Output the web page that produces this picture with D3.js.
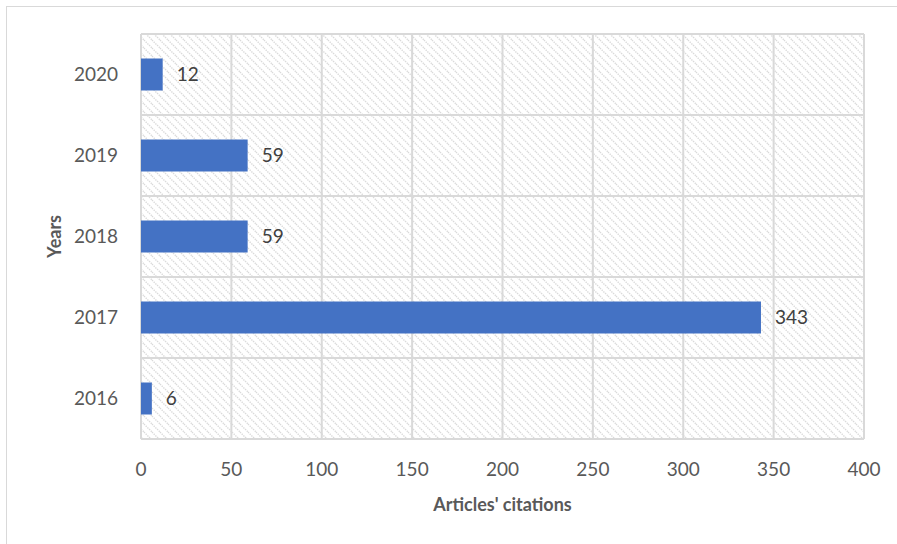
<!DOCTYPE html>
<html>
<head>
<meta charset="utf-8">
<script src="https://cdn.jsdelivr.net/npm/d3@7"></script>
<style>
  body { margin: 0; background: #fff; }
  text { font-family: Lato, "Open Sans", sans-serif; }
</style>
</head>
<body>
<svg id="chart" width="897" height="544"></svg>
<script>
var years = ["2016", "2017", "2018", "2019", "2020"];
var citations = [6, 343, 59, 59, 12];
var xTicks = [0, 50, 100, 150, 200, 250, 300, 350, 400];

var svg = d3.select("#chart");
var plotL = 141, plotR = 864, plotT = 34, plotB = 439;

// outer chart frame
svg.append("rect").attr("x", 6.5).attr("y", 6.5).attr("width", 900).attr("height", 560)
  .attr("fill", "#fff").attr("stroke", "#d9d9d9").attr("stroke-width", 1);

// hatch pattern for plot area (wide downward diagonal)
var pat = svg.append("defs").append("pattern").attr("id", "hatch")
  .attr("patternUnits", "userSpaceOnUse").attr("width", 8).attr("height", 8);
pat.append("path").attr("d", "M0,0 L8,8 M-1,7 L1,9 M7,-1 L9,1")
  .attr("stroke", "#dadada").attr("stroke-width", 1.4).attr("stroke-dasharray", "1.4,1");

var x = d3.scaleLinear().domain([0, 400]).range([plotL, plotR]);
var y = d3.scaleBand().domain(years.slice().reverse()).range([plotT, plotB]).paddingInner(0).paddingOuter(0);

svg.append("rect").attr("x", plotL).attr("y", plotT).attr("width", plotR - plotL).attr("height", plotB - plotT)
  .attr("fill", "url(#hatch)");

// vertical gridlines
svg.append("g").selectAll("line").data(xTicks).enter().append("line")
  .attr("x1", function (d) { return x(d); }).attr("x2", function (d) { return x(d); })
  .attr("y1", plotT).attr("y2", plotB)
  .attr("stroke", "#d9d9d9").attr("stroke-width", 2);

// horizontal category borders
var hLines = y.domain().map(function (d) { return y(d); }).concat([plotB]);
svg.append("g").selectAll("line").data(hLines).enter().append("line")
  .attr("x1", plotL).attr("x2", plotR)
  .attr("y1", function (d) { return d; }).attr("y2", function (d) { return d; })
  .attr("stroke", "#d9d9d9").attr("stroke-width", 2);

// bars
var data = years.map(function (yr, i) { return { year: yr, value: citations[i] }; });
var barH = 32;
svg.append("g").selectAll("rect").data(data).enter().append("rect")
  .attr("x", x(0))
  .attr("y", function (d) { return y(d.year) + (y.bandwidth() - barH) / 2; })
  .attr("width", function (d) { return x(d.value) - x(0); })
  .attr("height", barH)
  .attr("fill", "#4472c4");

// value labels
svg.append("g").selectAll("text").data(data).enter().append("text")
  .attr("x", function (d) { return x(d.value) + 14; })
  .attr("y", function (d) { return y(d.year) + y.bandwidth() / 2; })
  .attr("dy", "0.36em")
  .attr("font-size", 19).attr("fill", "#404040")
  .text(function (d) { return d.value; });

// y tick labels
svg.append("g").selectAll("text").data(years).enter().append("text")
  .attr("x", 118).attr("y", function (d) { return y(d) + y.bandwidth() / 2; })
  .attr("dy", "0.36em").attr("text-anchor", "end")
  .attr("font-size", 19).attr("fill", "#595959")
  .text(function (d) { return d; });

// x tick labels
svg.append("g").selectAll("text").data(xTicks).enter().append("text")
  .attr("x", function (d) { return x(d); }).attr("y", 476)
  .attr("text-anchor", "middle")
  .attr("font-size", 19).attr("fill", "#595959")
  .text(function (d) { return d; });

// axis titles
svg.append("text").attr("x", (plotL + plotR) / 2).attr("y", 511)
  .attr("text-anchor", "middle").attr("font-size", 18).attr("font-weight", "bold")
  .attr("fill", "#595959").text("Articles' citations");

svg.append("text").attr("transform", "translate(61," + ((plotT + plotB) / 2) + ") rotate(-90)")
  .attr("text-anchor", "middle").attr("font-size", 18).attr("font-weight", "bold")
  .attr("fill", "#595959").text("Years");
</script>
</body>
</html>
